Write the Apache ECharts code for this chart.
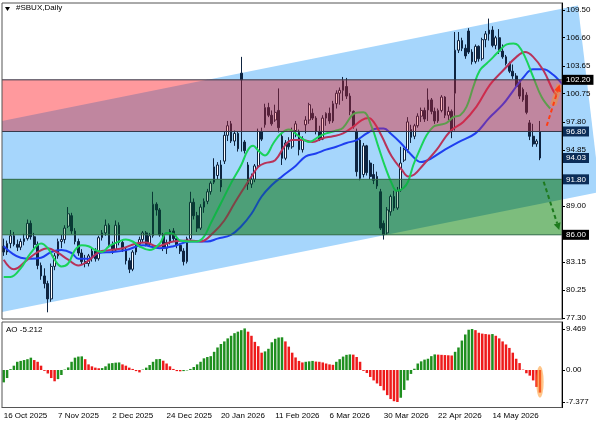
<!DOCTYPE html>
<html>
<head>
<meta charset="utf-8">
<script src="https://cdn.jsdelivr.net/npm/echarts@6/dist/echarts.min.js"></script>
<style>html,body{margin:0;padding:0;background:#fff}#chart{width:596px;height:425px}</style>
</head>
<body>
<div id="chart"></div>
<script>
// tick labels
const dateLabels = ['16 Oct 2025', '7 Nov 2025', '2 Dec 2025', '24 Dec 2025', '20 Jan 2026', '11 Feb 2026',
  '6 Mar 2026', '30 Mar 2026', '22 Apr 2026', '14 May 2026'];
const priceTicks = [77.30, 80.25, 83.15, 89.00, 94.85, 97.80, 100.75, 103.65, 106.60, 109.50];
const aoTicks = [-7.377, 0, 9.469];

// daily candles: [open, close, low, high]
const candles = [
  [84.8, 84.2, 83.8, 85.6], [84.2, 85.1, 83.9, 85.4], [85.1, 85.9, 84.6, 86.5], [85.9, 85.0, 84.8, 86.3],
  [85.0, 84.7, 84.3, 85.5], [84.7, 85.3, 84.4, 85.6], [85.3, 85.6, 84.9, 86.1], [85.6, 87.2, 85.4, 87.6],
  [87.2, 85.8, 85.5, 87.5], [85.8, 85.0, 84.6, 86.2], [85.0, 82.8, 82.4, 85.3], [82.8, 81.7, 81.3, 83.1],
  [81.7, 80.9, 80.4, 82.5], [80.9, 79.3, 77.9, 81.2], [79.3, 82.7, 79.0, 83.0], [82.7, 83.8, 82.3, 84.1],
  [83.8, 85.3, 83.5, 85.6], [85.3, 85.5, 84.6, 86.0], [85.5, 86.7, 85.1, 87.0], [86.9, 88.2, 86.7, 88.9],
  [88.0, 86.4, 86.1, 88.3], [86.4, 85.3, 85.0, 86.7], [85.3, 84.1, 83.8, 85.6], [84.1, 83.2, 82.9, 84.5],
  [83.2, 83.0, 82.6, 83.9], [83.0, 83.8, 82.7, 84.0], [83.8, 84.3, 83.2, 84.6], [84.3, 83.5, 83.2, 84.6],
  [83.5, 85.7, 83.3, 85.9], [85.7, 86.2, 85.4, 86.5], [86.2, 87.0, 85.9, 87.6], [87.0, 85.0, 84.7, 87.2],
  [85.0, 84.4, 84.0, 85.3], [84.4, 87.0, 84.2, 87.5], [87.0, 85.2, 84.9, 87.3], [85.2, 84.5, 84.2, 85.5],
  [84.5, 83.3, 82.9, 84.7], [83.3, 82.4, 82.0, 83.6], [82.4, 84.2, 82.2, 84.4], [84.2, 85.0, 83.9, 85.2],
  [85.0, 85.5, 84.7, 85.8], [85.5, 86.2, 85.2, 86.4], [86.2, 85.0, 84.8, 86.4], [85.0, 85.9, 84.8, 86.2],
  [85.9, 89.2, 85.7, 90.5], [89.2, 88.6, 88.0, 89.4], [88.6, 86.0, 85.8, 88.8], [86.0, 84.6, 84.3, 86.2],
  [84.6, 85.2, 84.0, 85.5], [85.2, 86.4, 85.0, 86.6], [86.4, 85.6, 85.3, 86.7], [85.6, 84.9, 84.6, 85.9],
  [84.9, 84.3, 84.0, 85.1], [84.3, 83.2, 82.8, 84.6], [83.2, 85.6, 83.0, 85.8], [85.6, 89.4, 85.4, 90.5],
  [89.4, 88.0, 87.6, 89.8], [88.0, 86.7, 86.3, 88.4], [86.7, 88.9, 86.5, 89.2], [88.9, 89.5, 88.3, 89.8],
  [89.5, 90.5, 89.2, 90.8], [90.5, 91.4, 90.2, 91.6], [91.5, 93.1, 91.3, 94.0], [92.2, 93.3, 91.8, 93.6],
  [93.3, 91.0, 90.5, 93.8], [93.7, 96.4, 93.4, 96.8], [96.4, 97.4, 95.8, 97.9], [97.6, 95.8, 95.6, 97.9],
  [95.8, 96.6, 95.3, 96.9], [96.6, 95.0, 94.7, 96.8], [102.9, 102.2, 94.7, 104.6], [95.7, 94.8, 94.5, 95.9],
  [93.3, 91.3, 90.7, 93.6], [91.3, 91.8, 90.9, 92.4], [91.8, 93.2, 91.5, 93.4], [93.2, 96.8, 93.0, 97.1],
  [96.8, 96.0, 95.8, 97.2], [97.5, 99.3, 97.2, 99.7], [99.3, 98.5, 98.3, 99.8], [98.5, 97.6, 97.4, 99.0],
  [98.0, 98.8, 97.8, 99.6], [99.0, 97.2, 96.7, 101.3], [96.3, 94.0, 93.3, 96.6], [94.0, 95.6, 93.8, 95.9],
  [95.6, 95.2, 94.9, 96.2], [95.2, 96.9, 95.0, 97.2], [96.9, 97.6, 96.2, 97.9], [96.7, 94.9, 94.3, 97.0],
  [94.9, 96.0, 94.6, 96.3], [97.5, 98.0, 96.6, 98.4], [98.0, 99.6, 97.6, 99.8], [98.7, 98.2, 98.0, 99.2],
  [98.2, 96.8, 96.5, 98.4], [96.8, 96.0, 95.8, 97.4], [96.0, 98.2, 95.9, 98.5], [98.2, 98.7, 97.4, 98.8],
  [98.7, 97.9, 97.6, 99.3], [97.9, 99.7, 97.7, 100.0], [99.7, 100.8, 99.2, 101.1], [100.8, 101.1, 99.6, 101.4],
  [101.1, 102.1, 100.0, 102.5], [101.5, 100.5, 100.2, 102.4], [100.5, 98.9, 98.5, 100.8], [98.9, 97.3, 97.1, 99.0],
  [96.8, 92.6, 92.1, 97.1], [95.9, 91.9, 91.7, 96.1], [92.3, 95.3, 92.0, 95.6], [95.3, 92.5, 92.2, 95.4],
  [93.5, 92.1, 91.8, 93.8], [92.3, 91.7, 91.3, 93.4], [92.1, 91.1, 90.8, 92.6], [90.5, 86.7, 86.5, 90.8],
  [87.2, 86.0, 85.5, 87.5], [86.2, 88.6, 86.0, 88.9], [88.4, 90.0, 88.0, 90.2], [90.0, 88.8, 88.5, 90.6],
  [88.8, 90.6, 88.6, 91.0], [90.7, 93.5, 90.5, 95.2], [93.8, 94.9, 93.6, 95.1], [94.9, 97.8, 94.6, 98.3],
  [97.0, 96.2, 95.6, 97.5], [96.3, 97.4, 96.0, 97.6], [97.4, 98.4, 97.2, 98.7], [98.4, 99.0, 97.8, 99.3],
  [99.0, 98.1, 97.8, 99.3], [99.05, 100.1, 97.9, 101.3], [100.1, 98.9, 98.6, 100.3], [98.9, 97.9, 97.6, 99.3],
  [97.9, 99.0, 97.7, 99.2], [99.0, 100.4, 98.8, 100.6], [100.4, 98.5, 98.2, 100.5], [98.5, 98.9, 98.0, 99.4],
  [98.9, 96.9, 96.1, 99.1], [100.8, 105.3, 96.9, 107.2], [105.3, 106.3, 105.0, 107.2], [106.3, 105.5, 105.2, 106.6],
  [105.5, 104.7, 104.4, 105.9], [107.3, 105.1, 104.9, 107.6], [105.1, 104.1, 103.8, 105.4], [104.1, 105.7, 103.9, 105.9],
  [105.7, 104.4, 104.1, 105.8], [104.4, 106.4, 104.2, 106.6], [106.4, 107.0, 105.6, 107.3], [107.0, 107.4, 106.3, 108.6],
  [107.4, 105.8, 105.6, 107.8], [105.8, 106.6, 105.4, 106.8], [106.6, 105.2, 104.9, 107.5], [105.2, 104.6, 104.4, 105.9],
  [104.6, 103.9, 103.7, 104.8], [103.9, 103.1, 102.9, 104.1], [103.1, 102.6, 102.3, 103.8], [102.6, 101.5, 101.3, 102.9],
  [101.9, 100.5, 100.2, 102.2], [101.2, 100.1, 99.9, 101.4], [100.6, 98.8, 98.6, 100.9], [97.7, 96.3, 95.9, 98.0],
  [96.3, 95.5, 95.2, 97.6], [95.5, 95.8, 95.2, 96.0], [96.8, 94.03, 93.8, 97.9]
];

// Awesome Oscillator
const aoValues = [
  -2.85, -1.85, 0.2, 1.0, 1.9, 2.1, 2.3, 2.5, 2.85, 2.3, 1.9, 1.0, -0.2, -0.8, -1.85, -2.6,
  -2.1, -1.15, 0.1, 0.6, 1.9, 2.85, 3.1, 3.15, 2.5, 1.3, 0.85, 0.55, 0.4, 0.45, 0.85, 1.5,
  1.6, 1.7, 1.75, 1.3, 1.0, 0.55, 0.25, -0.25, -0.55, 0.1, 0.55, 1.15, 1.9, 2.5, 2.55, 2.15,
  1.5, 0.85, 0.25, -0.25, -0.3, -0.25, -0.1, 0.25, 0.7, 1.3, 1.9, 2.7, 3.0, 3.2, 4.2, 5.2,
  6.0, 6.6, 7.3, 7.9, 8.5, 8.85, 9.2, 9.6, 8.85, 7.9, 6.5, 5.5, 4.0, 4.3, 4.9, 6.4,
  7.2, 7.5, 7.55, 6.6, 5.4, 4.0, 2.9, 2.1, 1.75, 1.9, 2.0, 2.1, 1.95, 1.9, 1.75, 1.5,
  1.3, 1.2, 1.9, 2.5, 3.1, 3.5, 3.6, 3.55, 3.0, 1.9, -0.2, -0.7, -1.6, -2.4, -3.1, -3.7,
  -4.7, -5.8, -6.7, -7.2, -7.377, -6.4, -4.6, -2.4, -0.9, 0.3, 1.5, 2.0, 2.4, 2.6, 3.2, 3.6,
  3.55, 3.5, 3.45, 3.4, 3.35, 4.2, 5.2, 6.8, 8.2, 9.3, 9.469, 9.2, 8.6, 8.4, 8.3, 8.2,
  8.3, 7.9, 7.3, 6.6, 5.9, 5.1, 4.0, 2.6, 1.6, 0.1, -0.75, -1.3, -2.4, -3.9, -5.212
];

// Alligator lines: [bar index, price]
const jawPts = [[0, 84.8], [5, 83.6], [8, 83.5], [11, 83.6], [14, 84.2], [17, 84.4], [20, 84.1], [22, 83.5],
  [25, 83.5], [28, 84.1], [32, 84.2], [36, 84.4], [41, 84.9], [46, 84.6], [50, 84.8], [55, 85.3], [60, 85.3],
  [63, 85.6], [67, 86.0], [70, 86.9], [73, 88.2], [76, 90.0], [79, 91.2], [82, 92.1], [86, 93.2], [89, 94.2],
  [92, 94.5], [95, 94.9], [98, 95.2], [101, 95.6], [104, 95.9], [107, 96.6], [110, 97.1], [112, 97.1],
  [114, 96.6], [117, 95.6], [120, 94.4], [123, 93.6], [126, 94.0], [130, 94.9], [134, 95.7], [139, 96.6],
  [143, 98.2], [147, 99.6], [150, 101.0], [153, 102.4], [156, 103.3], [159, 103.3], [162, 102.7], [164, 102.0], [166, 101.3]];
const teethPts = [[0, 83.4], [3, 82.4], [7, 83.4], [10, 84.2], [13, 84.6], [16, 84.1], [19, 83.4], [22, 82.8],
  [25, 83.3], [28, 84.2], [31, 84.4], [35, 84.6], [39, 85.1], [42, 85.2], [45, 84.8], [50, 85.3], [55, 85.4],
  [58, 85.3], [62, 86.3], [65, 87.5], [68, 89.3], [71, 91.0], [73, 92.1], [75, 93.1], [77, 93.5], [80, 93.8],
  [83, 95.4], [85, 95.9], [88, 95.9], [91, 95.7], [94, 96.1], [97, 96.3], [100, 96.6], [103, 97.3], [105.5, 98.0],
  [107.5, 98.2], [109, 97.8], [111.4, 96.3], [114.3, 94.2], [117.3, 92.8], [119.2, 92.1], [121, 92.3],
  [123.6, 93.3], [127.6, 94.9], [131.5, 96.8], [135.4, 97.8], [139.3, 99.4], [143.3, 101.7], [147.2, 103.2],
  [151.1, 104.6], [153.6, 105.1], [156, 104.6], [159, 103.2], [162, 101.0], [163, 100.6]];
const lipsPts = [[0, 81.6], [2, 81.6], [5, 82.5], [8, 84.1], [11, 85.1], [13, 84.6], [15, 83.4], [17, 82.7],
  [19, 83.0], [21, 84.4], [23, 84.9], [25, 84.8], [27, 84.4], [29, 84.2], [31, 84.8], [34, 85.3], [36, 85.5],
  [38, 85.3], [40, 84.8], [43, 84.4], [46, 85.1], [48, 86.2], [50, 86.1], [52, 85.4], [55, 85.3], [57, 85.3],
  [59, 85.8], [61, 87.2], [64, 89.3], [67, 91.4], [70, 93.3], [72, 94.9], [73.5, 95.3], [75, 94.8], [77, 94.3],
  [79.5, 95.6], [81.5, 96.5], [84, 97.0], [87, 96.3], [90, 95.7], [93, 96.3], [95, 96.6], [98, 96.9],
  [100, 97.2], [103.5, 98.7], [106, 98.8], [108.4, 97.3], [110.4, 95.2], [112.4, 93.1], [114.3, 91.4],
  [115.8, 90.6], [117.8, 90.9], [119.2, 91.6], [120.7, 93.3], [122.6, 94.9], [124.6, 96.4], [126.6, 97.3],
  [128.5, 97.5], [130.5, 97.7], [132.5, 98.3], [134.5, 98.5], [136.4, 99.4], [138.4, 101.5], [140.3, 103.2],
  [142.3, 103.9], [144.3, 104.6], [146.2, 105.3], [148.2, 105.9], [150.2, 106.0], [151.6, 105.8],
  [153.6, 104.6], [156, 102.5], [158.5, 100.4], [161, 99.2]];

// drawn objects: channel, zones, levels, arrows
const channelUpper = [[-0.5, 97.9], [169.2, 109.98]];
const channelLower = [[-0.5, 77.93], [175.7, 90.48]];
const redZone = [96.8, 102.2];
const greenZone = [86.0, 91.8];
const priceBoxes = [102.20, 96.80, 94.03, 91.80, 86.00];
const redArrow = [[160.0, 97.4], [163.8, 101.7]];
const greenArrow = [[159.1, 91.55], [163.7, 86.5]];
const aoMark = [[156.9, 0.9], [159.1, -6.4]];
const nBars = 165;

const FONT = 'Liberation Sans';
const categories = Array.from({ length: nBars }, (_, i) => i);
const X0 = -0.5, X1 = nBars - 0.5;

function signedArea(pts) {
  let s = 0;
  for (let i = 0; i < pts.length; i++) {
    const a = pts[i], b = pts[(i + 1) % pts.length];
    s += a[0] * b[1] - b[0] * a[1];
  }
  return s;
}
function intersect(p, q, a, b) {
  const d1x = q[0] - p[0], d1y = q[1] - p[1], d2x = b[0] - a[0], d2y = b[1] - a[1];
  const den = d1x * d2y - d1y * d2x;
  const t = ((a[0] - p[0]) * d2y - (a[1] - p[1]) * d2x) / den;
  return [p[0] + t * d1x, p[1] + t * d1y];
}
// Sutherland-Hodgman, clip is convex
function clipPolygon(subject, clip) {
  let out = subject;
  const area = signedArea(clip);
  for (let i = 0; i < clip.length && out.length; i++) {
    const a = clip[i], b = clip[(i + 1) % clip.length];
    const inside = p => ((b[0] - a[0]) * (p[1] - a[1]) - (b[1] - a[1]) * (p[0] - a[0])) * area >= -1e-9;
    const input = out; out = [];
    for (let j = 0; j < input.length; j++) {
      const p = input[j], q = input[(j + 1) % input.length];
      const pin = inside(p), qin = inside(q);
      if (pin) out.push(p);
      if (pin !== qin) out.push(intersect(p, q, a, b));
    }
  }
  return out;
}
function arrowShapes(api, seg, color, dash) {
  const p0 = api.coord(seg[0]), p1 = api.coord(seg[1]);
  const dx = p1[0] - p0[0], dy = p1[1] - p0[1], L = Math.hypot(dx, dy);
  const ux = dx / L, uy = dy / L, len = 7, half = 3.5;
  const bx = p1[0] - ux * len, by = p1[1] - uy * len;
  return [
    { type: 'line', shape: { x1: p0[0], y1: p0[1], x2: bx, y2: by },
      style: { stroke: color, lineWidth: 2, lineDash: dash } },
    { type: 'polygon', shape: { points: [p1, [bx - uy * half, by + ux * half], [bx + uy * half, by - ux * half]] },
      style: { fill: color } }
  ];
}

const chart = echarts.init(document.getElementById('chart'));
chart.setOption({
  animation: false,
  graphic: [
    { type: 'polygon', shape: { points: [[5, 7], [10, 7], [7.5, 11]] }, style: { fill: '#000' } },
    { type: 'text', left: 16, top: 4, style: { text: '#SBUX,Daily', font: '8px "' + FONT + '"', fill: '#000' } },
    { type: 'text', left: 6, top: 326, style: { text: 'AO ' + aoValues[aoValues.length - 1].toFixed(3), font: '8px "' + FONT + '"', fill: '#000' } }
  ],
  grid: [
    { left: 2, top: 3, width: 560, height: 316, show: true, borderColor: '#555', borderWidth: 1, z: 8 },
    { left: 2, top: 322, width: 560, height: 85.5, show: true, borderColor: '#555', borderWidth: 1, z: 8 }
  ],
  xAxis: [
    { type: 'category', gridIndex: 0, data: categories, show: false },
    { type: 'category', gridIndex: 1, data: categories,
      axisLine: { onZero: false, lineStyle: { color: '#555' } },
      axisTick: { interval: 15, alignWithLabel: true, length: 3, lineStyle: { color: '#000' } },
      axisLabel: { interval: 15, align: 'left', margin: 4, fontSize: 8, fontFamily: FONT, color: '#000',
        formatter: (v, idx) => dateLabels[idx / 16] || '' } },
    { type: 'value', gridIndex: 0, min: X0, max: X1, show: false },
    { type: 'value', gridIndex: 1, min: X0, max: X1, show: false }
  ],
  yAxis: [
    { type: 'value', gridIndex: 0, position: 'right', min: 77.2, max: 110.23, z: 10,
      axisLine: { show: true, onZero: false, lineStyle: { color: '#000' } },
      axisTick: { show: true, length: 3, customValues: priceTicks, lineStyle: { color: '#000' } },
      axisLabel: { customValues: priceTicks, formatter: v => v.toFixed(2), fontSize: 8, fontFamily: FONT, color: '#000', margin: 4 },
      splitLine: { show: false } },
    { type: 'value', gridIndex: 1, position: 'right', min: -8.65, max: 11.08, z: 10,
      axisLine: { show: true, onZero: false, lineStyle: { color: '#000' } },
      axisTick: { show: true, length: 3, customValues: aoTicks, lineStyle: { color: '#000' } },
      axisLabel: { customValues: aoTicks, formatter: v => v === 0 ? '0.00' : v.toFixed(3), fontSize: 8, fontFamily: FONT, color: '#000', margin: 4 },
      splitLine: { show: false } }
  ],
  series: [
    { // channel and zone backgrounds
      type: 'custom', xAxisIndex: 2, yAxisIndex: 0, z: 1, clip: false, silent: true, data: [[0, 90]],
      renderItem: (params, api) => {
        const ch = [api.coord(channelUpper[0]), api.coord(channelUpper[1]), api.coord(channelLower[1]), api.coord(channelLower[0])];
        const children = [{ type: 'polygon', shape: { points: ch }, style: { fill: '#a6d6fc' } }];
        [[redZone, 'rgb(255,207,204)', 'rgb(165,179,207)'], [greenZone, 'rgb(180,224,167)', 'rgb(111,181,160)']].forEach(([z, outC, inC]) => {
          const rect = [api.coord([X0, z[1]]), api.coord([X1, z[1]]), api.coord([X1, z[0]]), api.coord([X0, z[0]])];
          children.push({ type: 'polygon', shape: { points: rect }, style: { fill: outC } });
          const inter = clipPolygon(rect, ch);
          if (inter.length > 2) children.push({ type: 'polygon', shape: { points: inter }, style: { fill: inC } });
        });
        return { type: 'group', children };
      }
    },
    {
      type: 'candlestick', xAxisIndex: 0, yAxisIndex: 0, z: 3, barWidth: 2.2, silent: true, data: candles,
      itemStyle: { color: '#ffffff', color0: '#0e2440', borderColor: '#0e2440', borderColor0: '#0e2440', borderWidth: 1 }
    },
    { type: 'line', xAxisIndex: 2, yAxisIndex: 0, z: 4, data: jawPts, smooth: 0.4, showSymbol: false, silent: true, lineStyle: { color: '#1e3ff0', width: 2 } },
    { type: 'line', xAxisIndex: 2, yAxisIndex: 0, z: 4, data: teethPts, smooth: 0.4, showSymbol: false, silent: true, lineStyle: { color: '#b8335a', width: 2 } },
    { type: 'line', xAxisIndex: 2, yAxisIndex: 0, z: 4, data: lipsPts, smooth: 0.4, showSymbol: false, silent: true, lineStyle: { color: '#19d35a', width: 2 } },
    { // translucent zone overlays with borders
      type: 'custom', xAxisIndex: 2, yAxisIndex: 0, z: 5, silent: true, data: [[0, 90]],
      renderItem: (params, api) => {
        const children = [];
        [[redZone, 'rgba(255,30,50,0.3)', '#35384a'], [greenZone, 'rgba(0,110,30,0.3)', '#2f6a48']].forEach(([z, fill, line]) => {
          const a = api.coord([X0, z[1]]), b = api.coord([X1, z[0]]);
          children.push({ type: 'rect', shape: { x: a[0], y: a[1], width: b[0] - a[0], height: b[1] - a[1] }, style: { fill } });
          children.push({ type: 'line', shape: { x1: a[0], y1: a[1], x2: b[0], y2: a[1] }, style: { stroke: line, lineWidth: 1 } });
          children.push({ type: 'line', shape: { x1: a[0], y1: b[1], x2: b[0], y2: b[1] }, style: { stroke: line, lineWidth: 1 } });
        });
        return { type: 'group', children };
      }
    },
    { // forecast arrows
      type: 'custom', xAxisIndex: 2, yAxisIndex: 0, z: 6, silent: true, data: [[0, 90]],
      renderItem: (params, api) => {
        const r0 = api.coord(redArrow[0]), r1 = api.coord(redArrow[1]);
        const glow = { type: 'line', shape: { x1: (r0[0] + r1[0]) / 2, y1: (r0[1] + r1[1]) / 2, x2: r1[0], y2: r1[1] },
          style: { stroke: 'rgba(255,150,30,0.45)', lineWidth: 6 } };
        return { type: 'group', children: [glow].concat(arrowShapes(api, redArrow, '#ff3d14', [4, 3]), arrowShapes(api, greenArrow, '#1d7a1d', [4, 3])) };
      }
    },
    { // price labels on the axis
      type: 'custom', xAxisIndex: 2, yAxisIndex: 0, z: 12, clip: false, silent: true, data: priceBoxes.map(v => [X1, v]),
      renderItem: (params, api) => {
        const v = api.value(1);
        const p = api.coord([X1, v]);
        const dark = (v === 102.20 || v === 86.00);
        return { type: 'text', x: p[0] + 1, y: p[1],
          style: { text: v.toFixed(2), font: '8px "' + FONT + '"', fill: '#fff', verticalAlign: 'middle', align: 'left',
            backgroundColor: dark ? '#000' : '#0b2d58', padding: [1, 3, 1, 3] } };
      }
    },
    {
      type: 'bar', xAxisIndex: 1, yAxisIndex: 1, z: 3, barWidth: 2.5, silent: true,
      data: aoValues.map((v, i) => ({ value: v, itemStyle: { color: (i === 0 || v > aoValues[i - 1]) ? '#1f8f1f' : '#ee1b1b' } }))
    },
    { // highlight on the last AO bars
      type: 'custom', xAxisIndex: 3, yAxisIndex: 1, z: 5, silent: true, data: [[0, 0]],
      renderItem: (params, api) => {
        const a = api.coord(aoMark[0]), b = api.coord(aoMark[1]);
        const cx = (a[0] + b[0]) / 2, cy = (a[1] + b[1]) / 2;
        const rx = Math.abs(b[0] - a[0]) / 2, ry = Math.abs(b[1] - a[1]) / 2;
        return { type: 'circle', x: cx, y: cy, scaleX: rx / ry, shape: { cx: 0, cy: 0, r: ry },
          style: { fill: 'rgba(255,150,40,0.55)' } };
      }
    }
  ]
});
</script>
</body>
</html>
